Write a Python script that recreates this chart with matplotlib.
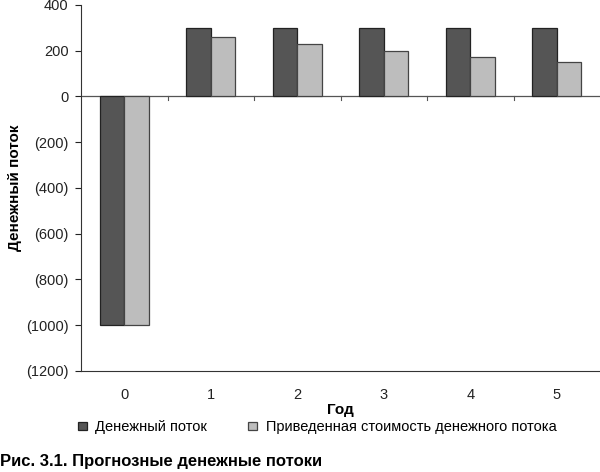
import matplotlib
matplotlib.use('Agg')
import matplotlib.pyplot as plt
import numpy as np

plt.rcParams['font.family'] = ['Liberation Sans', 'DejaVu Sans']

years = ['0', '1', '2', '3', '4', '5']
cash_flow = [-1000, 300, 300, 300, 300, 300]
present_value = [-1000, 261, 227, 197, 172, 149]

fig = plt.figure(figsize=(6.0, 4.72), dpi=100)
ax = fig.add_axes([0.135, 0.214, 0.865, 0.776])

x = np.arange(len(years))
w = 0.285
ax.bar(x - w/2, cash_flow, w, color='#555555', edgecolor='#222222', linewidth=0.9,
       label='Денежный поток', zorder=2)
ax.bar(x + w/2, present_value, w, color='#bdbdbd', edgecolor='#444444', linewidth=0.9,
       label='Приведенная стоимость денежного потока', zorder=2)

ax.set_xlim(-0.5, len(years) - 0.5)
ax.set_ylim(-1200, 400)
ax.set_yticks(range(-1200, 401, 200))
ax.set_yticklabels([f'({-v})' if v < 0 else str(v) for v in range(-1200, 401, 200)])
ax.set_xticks(x)
ax.set_xticklabels(years)
ax.tick_params(axis='x', length=0, pad=12, labelsize=10.5, colors='#222222')
ax.tick_params(axis='y', length=4, width=0.8, pad=5, labelsize=10.5, colors='#222222')

for s in ['top', 'right']:
    ax.spines[s].set_visible(False)
ax.spines['left'].set_color('#333333')
ax.spines['bottom'].set_color('#333333')

# zero line with category separators
ax.axhline(0, color='#555555', linewidth=0.9, zorder=1)
for b in np.arange(0.5, len(years) - 0.5, 1):
    ax.plot([b, b], [0, -18], color='#555555', linewidth=0.8, zorder=1)

ax.set_xlabel('Год', fontweight='bold', fontsize=11, labelpad=1)
ax.set_ylabel('Денежный поток', fontweight='bold', fontsize=11, labelpad=3)

ax.legend(loc='upper center', bbox_to_anchor=(0.455, -0.098), ncol=2, frameon=False,
          fontsize=10.5, handlelength=0.6, handleheight=0.5, columnspacing=2.8,
          handletextpad=0.6)

fig.text(0.0, 0.012, 'Рис. 3.1. Прогнозные денежные потоки', fontsize=12,
         fontweight='bold', family=['Liberation Sans Narrow', 'Liberation Sans', 'DejaVu Sans'])

plt.savefig('out.png', dpi=100)
